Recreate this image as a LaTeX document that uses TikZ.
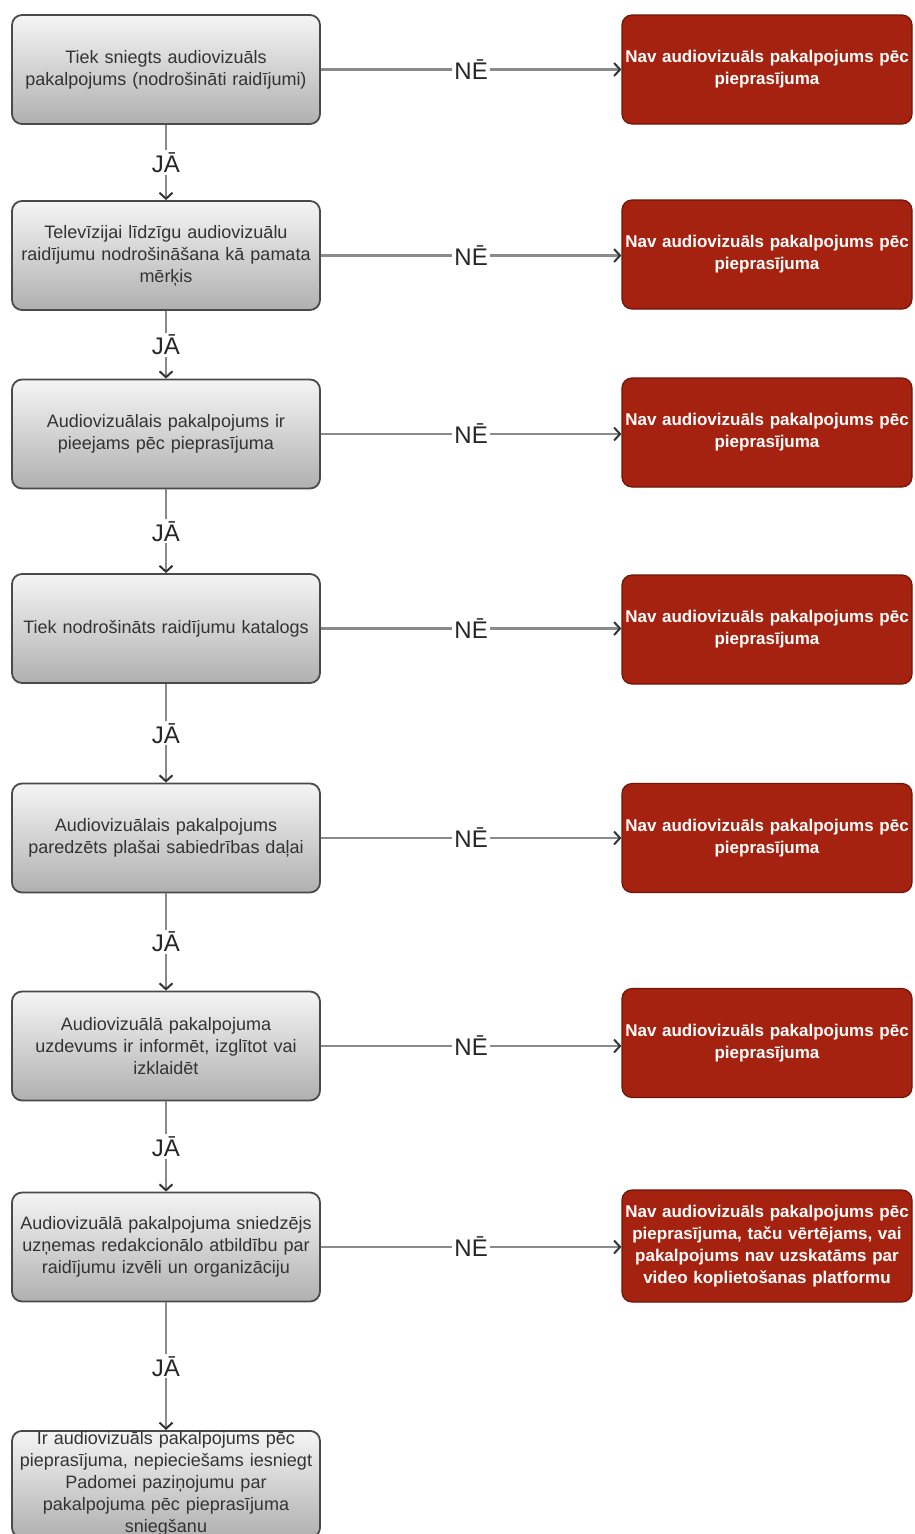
\documentclass[tikz,border=0pt]{standalone}
\usepackage{fontspec}
\setmainfont{Liberation Sans}
\usetikzlibrary{arrows,arrows.meta,positioning}
\definecolor{navred}{HTML}{A4220F}
\definecolor{navedge}{HTML}{6E1608}
\definecolor{qedge}{HTML}{4A4A4A}
\definecolor{linegray}{HTML}{8A8A8A}
\newcommand{\Qtext}{\fontsize{18}{22}\selectfont}
\newcommand{\Navtext}{\fontsize{17}{22}\selectfont\bfseries}

\begin{document}
\begin{tikzpicture}[x=1pt,y=-1pt,
  qbox/.style={rectangle,rounded corners=10pt,draw=qedge,line width=1.8pt,
    top color=gray!8,bottom color=gray!62,text=black!80,
    minimum width=308pt,minimum height=109pt,text width=300pt,inner xsep=4pt,
    align=center,font=\Qtext},
  navbox/.style={rectangle,rounded corners=10pt,draw=navedge,line width=1.2pt,
    fill=navred,text=white,minimum width=290pt,minimum height=109pt,
    text width=284pt,inner xsep=3pt,align=center,font=\Navtext},
  answer/.style={fill=white,text=black!85,font=\fontsize{24}{26}\selectfont,inner sep=2pt},
  conn/.style={draw=linegray,line width=2.2pt,
    -{Straight Barb[length=6pt,width=13pt,line width=2pt,color=black!80]}}]
\useasboundingbox (0,0) rectangle (915,1534);
% \draw[help lines] (0,0) grid[step=100] (915,1534);
\node (q1) [qbox] at (166,69.5) {Tiek sniegts audiovizuāls\\pakalpojums (nodrošināti raidījumi)};
\node (q2) [qbox] at (166,255.5) {Televīzijai līdzīgu audiovizuālu\\raidījumu nodrošināšana kā pamata\\mērķis};
\node (q3) [qbox] at (166,434) {Audiovizuālais pakalpojums ir\\pieejams pēc pieprasījuma};
\node (q4) [qbox] at (166,628.5) {Tiek nodrošināts raidījumu katalogs};
\node (q5) [qbox] at (166,838) {Audiovizuālais pakalpojums\\paredzēts plašai sabiedrības daļai};
\node (q6) [qbox] at (166,1046) {Audiovizuālā pakalpojuma\\uzdevums ir informēt, izglītot vai\\izklaidēt};
\node (q7) [qbox] at (166,1247) {Audiovizuālā pakalpojuma sniedzējs\\uzņemas redakcionālo atbildību par\\raidījumu izvēli un organizāciju};
\node (q8) [qbox,anchor=north,minimum height=104pt,inner ysep=1pt] at (166,1430) {Ir audiovizuāls pakalpojums pēc\\pieprasījuma, nepieciešams iesniegt\\Padomei paziņojumu par\\pakalpojuma pēc pieprasījuma\\sniegšanu};
%
\node (n1) [navbox] at (767,69.5) {Nav audiovizuāls pakalpojums pēc\\pieprasījuma};
\node (n2) [navbox] at (767,254.5) {Nav audiovizuāls pakalpojums pēc\\pieprasījuma};
\node (n3) [navbox] at (767,432.5) {Nav audiovizuāls pakalpojums pēc\\pieprasījuma};
\node (n4) [navbox] at (767,629.5) {Nav audiovizuāls pakalpojums pēc\\pieprasījuma};
\node (n5) [navbox] at (767,838) {Nav audiovizuāls pakalpojums pēc\\pieprasījuma};
\node (n6) [navbox] at (767,1043) {Nav audiovizuāls pakalpojums pēc\\pieprasījuma};
\node (n7) [navbox,minimum height=112pt] at (767,1246) {Nav audiovizuāls pakalpojums pēc\\pieprasījuma, taču vērtējams, vai\\pakalpojums nav uzskatāms par\\video koplietošanas platformu};
%
\foreach \i in {1,...,7}{
  \path (q\i.east) edge[conn] node[answer] {NĒ} (q\i.east -| n\i.west);
}
\foreach \i/\j in {1/2,2/3,3/4,4/5,5/6,6/7,7/8}{
  \path (q\i) edge[conn] node[answer] {JĀ} (q\j);
}
\end{tikzpicture}
\end{document}
